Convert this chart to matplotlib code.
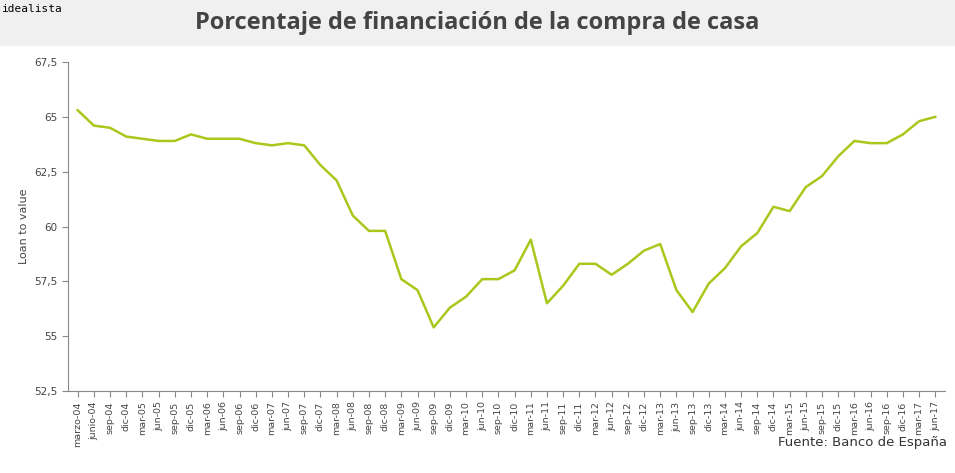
import matplotlib.pyplot as plt

labels = []
for y in range(4, 18):
    for m in ["mar", "jun", "sep", "dic"]:
        labels.append(f"{m}-{y:02d}")
labels = labels[:54]
labels[0] = "marzo-04"; labels[1] = "junio-04"
values = [65.3,64.6,64.5,64.1,64.0,63.9,63.9,64.2,64.0,64.0,64.0,63.8,63.7,63.8,63.7,62.8,
          62.1,60.5,59.8,59.8,57.6,57.1,55.4,56.3,56.8,57.6,57.6,58.0,59.4,56.5,57.3,58.3,
          58.3,57.8,58.3,58.9,59.2,57.1,56.1,57.4,58.1,59.1,59.7,60.9,60.7,61.8,62.3,63.2,
          63.9,63.8,63.8,64.2,64.8,65.0]
yticks = [52.5, 55, 57.5, 60, 62.5, 65, 67.5]
ylabels = ["52,5", "55", "57,5", "60", "62,5", "65", "67,5"]

W, H = 955, 473
fig = plt.figure(figsize=(W/100, H/100), dpi=100)
fig.patches.append(plt.Rectangle((0, 1-45/H), 1, 45/H, transform=fig.transFigure, color="#f0f0f0", zorder=0))
fig.text(0.5, 1-23/H, "Porcentaje de financiación de la compra de casa", ha="center", va="center",
         fontsize=17, fontweight="bold", color="#444444", family="Open Sans")
fig.text(0.002, 1-9/H, "idealista", ha="left", va="center", fontsize=8, color="black", family="DejaVu Sans Mono")
fig.text(1-8/W, 1-442/H, "Fuente: Banco de España", ha="right", va="center", fontsize=9.5, color="#333333")

ax = fig.add_axes([68/W, 1-391/H, (945-68)/W, (391-62)/H])
x = list(range(len(values)))
ax.plot(x, values, color="#a8c81c", lw=1.8)
ax.set_ylim(52.5, 67.5)
ax.set_xlim(-0.6, 53.6)
ax.set_yticks(yticks)
ax.set_yticklabels(ylabels, fontsize=7.5, color="#444444")
ax.set_xticks(x)
ax.set_xticklabels(labels, rotation=90, fontsize=6.8, color="#444444")
ax.set_ylabel("Loan to value", fontsize=8, color="#444444")
for s in ["top", "right"]:
    ax.spines[s].set_visible(False)
ax.spines["left"].set_color("#888888")
ax.spines["bottom"].set_color("#888888")
ax.tick_params(length=4, color="#888888")
fig.savefig("out.png", dpi=100)
